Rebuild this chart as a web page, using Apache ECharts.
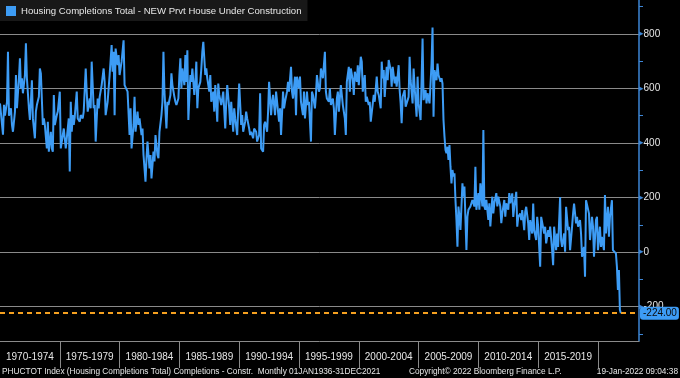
<!DOCTYPE html>
<html>
<head>
<meta charset="utf-8">
<script src="https://cdn.jsdelivr.net/npm/echarts@6/dist/echarts.min.js"></script>
<style>
  html, body { margin: 0; padding: 0; background: #000; }
  #chart { width: 680px; height: 378px; }
</style>
</head>
<body>
<div id="chart"></div>
<script>
// months counted from Jan 1970 (0 = 1970-01)
const monthIdx = [
  0,2,3,4,5,7,8,9,11,12,13,15,16,17,19,20,21,22,23,25,26,27,29,30,31,32,33,35,36,37,39,40,41,43,44,45,47,48,49,51,52,53,54,55,57,58,
  60,61,63,64,66,67,69,70,71,72,73,74,75,77,78,80,81,83,84,86,87,88,90,91,92,94,95,96,98,99,100,102,104,105,106,108,109,110,112,113,114,115,116,118,119,
  120,122,124,125,126,128,130,131,132,134,135,136,138,139,140,142,143,144,146,147,148,150,151,152,154,155,156,158,159,160,162,163,164,165,167,168,169,171,172,173,175,176,177,179,
  180,181,182,183,185,186,187,188,189,191,192,193,195,196,197,198,199,201,202,203,204,206,207,208,210,211,212,214,215,216,218,219,220,222,223,224,226,227,228,230,231,232,234,235,236,238,239,
  240,242,243,244,246,247,248,250,251,252,254,255,257,258,260,261,262,264,265,266,268,269,270,272,273,274,276,277,278,280,281,282,284,285,286,288,289,290,292,293,294,296,297,298,
  300,301,302,304,305,306,308,309,310,312,313,314,316,317,318,320,321,322,324,325,326,327,328,330,331,332,334,335,336,338,339,340,342,343,344,346,347,348,350,351,352,354,355,356,358,359,
  360,362,363,364,366,367,368,370,371,372,374,375,376,378,379,380,382,383,384,385,386,388,389,390,392,393,394,396,397,398,400,401,402,403,404,406,407,408,410,411,412,414,415,416,418,419,
  420,422,423,424,425,427,428,429,431,432,433,434,435,436,438,439,440,442,443,444,445,446,447,448,449,450,451,452,453,454,455,456,457,458,459,460,461,462,464,465,466,468,469,470,472,473,474,476,477,478,
  480,481,482,484,485,486,487,488,490,491,492,494,495,496,498,499,500,502,503,504,506,507,508,510,511,512,514,515,516,518,519,520,522,523,524,526,527,528,530,531,532,534,535,536,538,539,
  540,542,543,544,546,547,548,550,551,552,554,555,556,558,559,560,562,563,564,566,567,568,570,571,572,574,575,576,578,579,580,582,583,584,586,587,588,590,591,592,594,595,596,598,599,
  600,602,603,604,606,607,608,610,611,612,614,615,616,618,619,620,621,622,623
];
const values = [
  545,545,430,540,500,550,734,500,527,466,441,515,649,527,637,710,600,637,582,649,765,637,527,484,551,630,490,417,515,539,569,673,655,466,490,466,380,478,368,441,380,368,576,466,502,515,
  588,380,386,453,380,417,490,295,551,441,502,466,496,588,490,478,502,490,515,673,588,515,563,527,698,527,539,405,563,527,569,612,673,624,502,551,600,649,759,661,734,502,746,685,722,
  649,698,776,612,618,588,429,527,380,466,569,441,515,466,490,429,453,356,258,344,405,307,356,270,368,332,429,356,344,441,502,551,734,588,453,551,539,576,655,612,569,551,539,563,
  649,710,600,673,612,722,624,740,484,649,624,673,576,624,698,527,600,624,673,734,771,649,673,637,588,649,551,588,515,612,478,618,576,539,563,588,453,551,612,527,466,551,441,527,490,429,527,
  618,466,502,441,478,515,490,453,429,441,417,453,441,405,429,582,380,368,466,478,441,515,624,502,551,576,502,588,594,478,527,429,588,527,551,588,624,588,679,588,563,643,502,643,
  600,643,551,502,588,490,588,539,551,405,588,576,527,576,649,588,600,673,637,685,734,588,563,551,600,539,563,527,429,563,588,515,612,618,539,490,429,624,679,588,673,630,576,661,624,685,
  612,716,698,588,649,551,569,539,551,478,472,576,551,643,588,576,527,698,637,667,569,679,630,704,667,606,679,618,643,606,685,594,545,472,569,594,533,527,569,716,630,545,673,606,496,643,
  545,484,630,783,557,594,545,582,545,618,691,823,496,667,630,691,649,624,637,618,484,423,374,362,386,338,392,313,252,301,277,289,191,118,20,167,130,81,252,203,240,8,130,155,167,179,191,167,313,155,
  216,155,252,167,447,167,155,191,118,179,94,203,142,179,216,167,203,167,106,142,191,130,179,155,216,179,215,129,166,221,93,129,141,117,154,80,148,166,105,44,117,68,178,80,44,129,
  93,-54,129,135,68,93,32,80,56,93,7,-48,93,7,68,19,202,44,19,68,1,166,80,93,7,93,141,178,105,129,93,117,68,-17,19,-90,190,196,141,44,129,93,-17,117,129,
  7,93,19,56,7,209,68,166,56,129,190,7,1,-5,-54,-139,-66,-212,-224
];
const seriesName = 'Housing Completions Total - NEW Prvt House Under Construction';
const bandStarts = [1970, 1975, 1980, 1985, 1990, 1995, 2000, 2005, 2010, 2015];
const bandEdges = [1975, 1980, 1985, 1990, 1995, 2000, 2005, 2010, 2015, 2020];
const lastValue = values[values.length - 1];

const lineData = monthIdx.map((m, i) => [1970 + m / 12, values[i]]);

const font = "'Liberation Sans', Arial, sans-serif";
const footStyle = { color: '#e6e6e6', fontSize: 8.3, fontWeight: 'normal', fontFamily: font };
const chart = echarts.init(document.getElementById('chart'));

chart.setOption({
  backgroundColor: '#000',
  animation: false,
  title: [
    {
      text: 'PHUCTOT Index (Housing Completions Total) Completions - Constr.  Monthly 01JAN1936-31DEC2021',
      left: 2, top: 368, padding: 0, textStyle: footStyle
    },
    {
      text: 'Copyright\u00a9 2022 Bloomberg Finance L.P.',
      left: 409, top: 368, padding: 0, textStyle: footStyle
    },
    {
      text: '19-Jan-2022 09:04:38',
      right: 2, top: 368, padding: 0, textStyle: footStyle
    }
  ],
  legend: {
    left: 0, top: 0,
    padding: [6, 6, 5, 6],
    backgroundColor: '#181818',
    icon: 'rect',
    itemWidth: 10, itemHeight: 10,
    textStyle: { color: '#e6e6e6', fontSize: 9.6, fontFamily: font },
    data: [seriesName]
  },
  grid: { left: 0, right: 41, top: 0, bottom: 37 },
  xAxis: {
    type: 'value',
    min: 1970, max: 2023.43,
    axisLine: { show: true, onZero: false, lineStyle: { color: '#8a8a8a', width: 1 } },
    axisTick: { show: true, customValues: bandEdges, length: 27, lineStyle: { color: '#8a8a8a' } },
    axisLabel: {
      customValues: bandStarts.map(v => v + 2.5),
      formatter: v => (v - 2.5) + '-' + (v + 1.5),
      color: '#e6e6e6', fontSize: 10, margin: 11, fontFamily: font
    },
    splitLine: { show: false }
  },
  yAxis: {
    type: 'value',
    position: 'right',
    min: -326, max: 924,
    splitNumber: 6,
    axisLine: { show: true, lineStyle: { color: '#3d86d6', width: 1.5 } },
    axisTick: { show: false },
    minorTick: { show: true, splitNumber: 2, length: 4, lineStyle: { color: '#3d86d6' } },
    splitLine: { show: true, showMinLine: false, showMaxLine: false, lineStyle: { color: '#8a8a8a', width: 1 } },
    axisLabel: {
      margin: 0,
      showMinLabel: false, showMaxLabel: false,
      formatter: v => '{t|\u25B8}{n|' + v + '}',
      rich: {
        t: { color: '#3d86d6', fontSize: 9, fontFamily: 'DejaVu Sans' },
        n: { color: '#e6e6e6', fontSize: 10, fontFamily: font }
      }
    }
  },
  series: [{
    name: seriesName,
    type: 'line',
    data: lineData,
    showSymbol: false,
    color: '#3d9cf5',
    lineStyle: { color: '#3d9cf5', width: 2 },
    markLine: {
      silent: true,
      symbol: 'none',
      data: [{ yAxis: lastValue }],
      lineStyle: { color: '#f5a020', type: [5, 4], width: 2 },
      label: {
        position: 'end',
        distance: 1,
        formatter: lastValue.toFixed(2),
        backgroundColor: '#3d9cf5',
        color: '#0a0a0a',
        fontSize: 10,
        fontFamily: font,
        padding: [2, 2, 1, 3],
        borderRadius: 3
      }
    }
  }]
});
</script>
</body>
</html>
